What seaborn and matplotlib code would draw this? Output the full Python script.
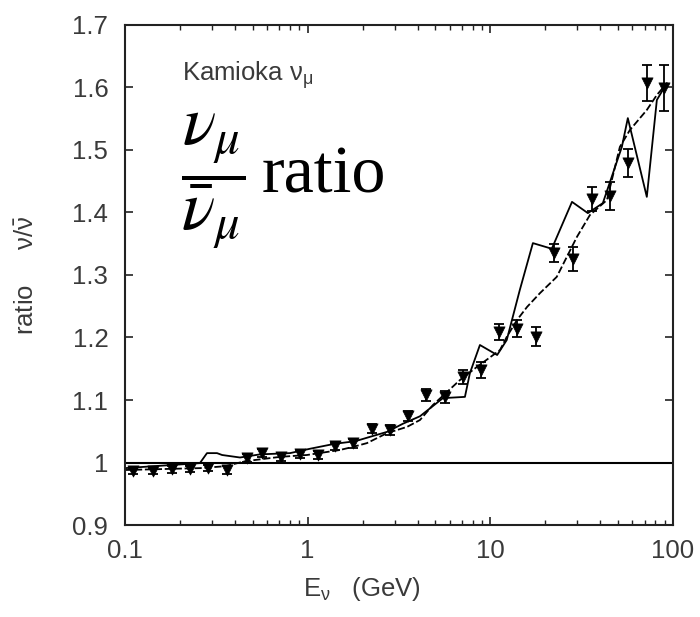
import numpy as np
import pandas as pd
import matplotlib
matplotlib.use("Agg")
import matplotlib.pyplot as plt
import seaborn as sns

# ---- data -------------------------------------------------------------
energy = [0.111, 0.142, 0.181, 0.227, 0.284, 0.361, 0.466, 0.562, 0.715, 0.908,
          1.14, 1.41, 1.77, 2.25, 2.82, 3.54, 4.44, 5.64, 7.08, 8.89,
          11.1, 14.0, 17.8, 22.3, 28.3, 36.0, 45.1, 56.6, 71.9, 89.2]
ratio = [0.986, 0.986, 0.989, 0.990, 0.991, 0.988, 1.007, 1.015, 1.009, 1.014,
         1.012, 1.026, 1.031, 1.054, 1.052, 1.074, 1.108, 1.105, 1.137, 1.148,
         1.209, 1.214, 1.201, 1.335, 1.326, 1.422, 1.426, 1.479, 1.607, 1.599]
ratio_err = [0.005, 0.005, 0.005, 0.005, 0.005, 0.006, 0.006, 0.006, 0.006, 0.006,
             0.006, 0.006, 0.007, 0.007, 0.008, 0.008, 0.010, 0.010, 0.011, 0.013,
             0.013, 0.014, 0.015, 0.015, 0.019, 0.019, 0.022, 0.022, 0.029, 0.037]

model1_e = [0.1, 0.257, 0.281, 0.319, 0.34, 0.426, 0.548, 0.80, 1.03, 1.41, 1.82,
            2.19, 2.72, 3.32, 4.12, 5.50, 7.26, 7.73, 8.77, 10.9, 12.3, 14.5,
            17.1, 21.7, 28.0, 34.2, 41.3, 52.5, 56.6, 71.9, 81.6, 92.6]
model1_r = [0.991, 0.999, 1.015, 1.015, 1.012, 1.008, 1.013, 1.015, 1.022, 1.030, 1.034,
            1.041, 1.049, 1.062, 1.074, 1.103, 1.105, 1.143, 1.188, 1.172, 1.196, 1.276,
            1.351, 1.342, 1.417, 1.399, 1.415, 1.505, 1.551, 1.425, 1.580, 1.607]

model2_e = [0.1, 0.257, 0.352, 0.454, 0.705, 0.99, 1.50, 1.77, 2.11, 2.72, 3.50,
            4.12, 4.85, 6.82, 8.45, 11.3, 12.3, 14.0, 15.9, 18.7, 23.1, 29.8,
            35.1, 43.5, 51.2, 58.1, 71.9, 81.6, 92.6]
model2_r = [0.988, 0.991, 0.994, 1.002, 1.009, 1.012, 1.020, 1.025, 1.031, 1.047, 1.057,
            1.068, 1.092, 1.132, 1.153, 1.180, 1.201, 1.228, 1.249, 1.271, 1.297, 1.361,
            1.396, 1.420, 1.505, 1.532, 1.564, 1.588, 1.607]

x_ticks = [0.1, 1, 10, 100]
x_ticklabels = ["0.1", "1", "10", "100"]
y_ticks = [0.9, 1.0, 1.1, 1.2, 1.3, 1.4, 1.5, 1.6, 1.7]
y_ticklabels = ["0.9", "1", "1.1", "1.2", "1.3", "1.4", "1.5", "1.6", "1.7"]

# ---- style --------------------------------------------------------------
sns.set_style("ticks")
plt.rcParams["font.family"] = ["Liberation Sans", "DejaVu Sans"]
plt.rcParams["mathtext.fontset"] = "custom"
plt.rcParams["mathtext.rm"] = "Liberation Sans"
plt.rcParams["mathtext.it"] = "Liberation Sans:italic"
plt.rcParams["mathtext.bf"] = "Liberation Sans:bold"

grey = "#3a3a3a"
fs = 18.5

fig = plt.figure(figsize=(7.0, 6.17), dpi=100)
ax = fig.add_axes([0.1786, 0.1491, 0.9614 - 0.1786, 0.9595 - 0.1491])

pts = pd.DataFrame({"E": energy, "r": ratio, "err": ratio_err})
m1 = pd.DataFrame({"E": model1_e, "r": model1_r})
m2 = pd.DataFrame({"E": model2_e, "r": model2_r})

ax.axhline(1.0, color="black", lw=1.5, zorder=1)
sns.lineplot(data=m1, x="E", y="r", ax=ax, color="black", lw=1.3,
             sort=False, estimator=None, zorder=2)
sns.lineplot(data=m2, x="E", y="r", ax=ax, color="black", lw=1.3,
             sort=False, estimator=None, zorder=2, linestyle=(0, (4, 1.5)))
ax.errorbar(pts["E"], pts["r"], yerr=pts["err"], fmt="none", ecolor="black",
            elinewidth=1.3, capsize=3.5, capthick=1.3, zorder=3)
sns.scatterplot(data=pts, x="E", y="r", ax=ax, marker="v", s=65,
                color="black", edgecolor="black", linewidth=0.5, zorder=4)

ax.set_xscale("log")
ax.set_xlim(0.1, 100)
ax.set_ylim(0.9, 1.7)
ax.set_xticks(x_ticks)
ax.set_xticklabels(x_ticklabels)
ax.set_yticks(y_ticks)
ax.set_yticklabels(y_ticklabels)

for s in ax.spines.values():
    s.set_visible(True)
    s.set_linewidth(1.5)
    s.set_color("#222222")

ax.tick_params(which="major", direction="in", length=6, width=1.2,
               top=True, right=True, labelsize=fs, labelcolor=grey,
               color="#222222")
ax.tick_params(axis="x", which="major", pad=10)
ax.tick_params(axis="y", which="major", pad=12)
ax.tick_params(which="minor", direction="in", length=3.5, width=1.0,
               top=True, right=True, color="#222222")
ax.minorticks_on()
ax.yaxis.set_minor_locator(matplotlib.ticker.NullLocator())

ax.set_xlabel(r"E$_\mathrm{\nu}$   (GeV)", fontsize=fs, color=grey)
ax.xaxis.set_label_coords(0.432, -0.128)
ax.xaxis.label.set_va("center")
ax.set_ylabel(r"ratio     $\mathrm{\nu/\bar{\nu}}$", fontsize=fs, color=grey)
ax.yaxis.set_label_coords(-0.18, 0.5)
ax.yaxis.label.set_va("center")

ax.text(0.104, 0.9, r"Kamioka $\mathrm{\nu_\mu}$", transform=ax.transAxes,
        fontsize=fs, color=grey, ha="left", va="center")
ax.text(0.102, 0.688, r"$\dfrac{\nu_\mu}{\bar{\nu}_\mu}$", transform=ax.transAxes,
        fontsize=50, color="black", ha="left", va="center", math_fontfamily="stix")
ax.text(0.25, 0.664, "ratio", transform=ax.transAxes, fontsize=49,
        color="black", ha="left", va="baseline", family="Liberation Serif")

fig.savefig("out.png", dpi=100)
